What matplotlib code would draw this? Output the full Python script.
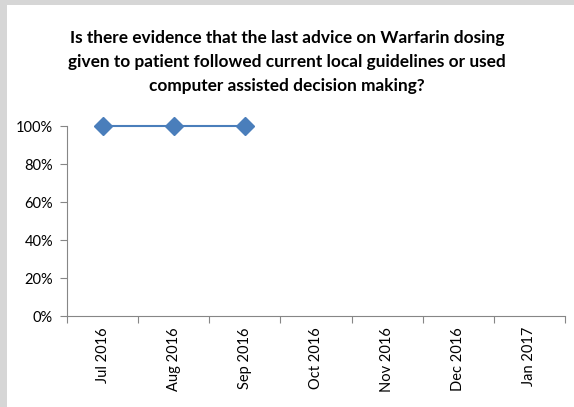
import numpy as np
import matplotlib.pyplot as plt
from matplotlib.patches import Rectangle
from matplotlib.ticker import PercentFormatter

months = ['Jul 2016', 'Aug 2016', 'Sep 2016', 'Oct 2016', 'Nov 2016', 'Dec 2016', 'Jan 2017']
compliance = [1.0, 1.0, 1.0]

title = ('Is there evidence that the last advice on Warfarin dosing\n'
         'given to patient followed current local guidelines or used\n'
         'computer assisted decision making?')

plt.rcParams['font.family'] = ['Lato', 'DejaVu Sans']

fig = plt.figure(figsize=(5.74, 4.07), dpi=100)
W, H = 574, 407

# grey frame from the screenshot (top and left strips)
fig.patches.append(Rectangle((0, 1 - 5 / H), 1, 5 / H, transform=fig.transFigure,
                             facecolor='#d6d6d6', edgecolor='none'))
fig.patches.append(Rectangle((0, 0), 7 / W, 1, transform=fig.transFigure,
                             facecolor='#d6d6d6', edgecolor='none'))

ax = fig.add_axes([67 / W, (H - 316) / H, (565 - 67) / W, (316 - 126) / H])
x = np.arange(len(compliance))
ax.plot(x, compliance, color='#4a7ebb', lw=1.5, marker='D', ms=9.5,
        markerfacecolor='#4a7ebb', markeredgecolor='#4a7ebb', clip_on=False)

ax.set_xlim(-0.5, len(months) - 0.5)
ax.set_ylim(0, 1)
ax.set_yticks(np.arange(0, 1.01, 0.2))
ax.yaxis.set_major_formatter(PercentFormatter(1.0, decimals=0))
ax.set_xticks(np.arange(-0.5, len(months) + 0.5, 1))
ax.set_xticklabels([])
ax.set_xticks(np.arange(len(months)), minor=True)
ax.set_xticklabels(months, minor=True, rotation=90, fontsize=10.5)
ax.tick_params(axis='x', which='minor', length=0, pad=8)
ax.tick_params(axis='x', which='major', length=5, color='#868686')
ax.tick_params(axis='y', length=5, color='#868686', labelsize=10.5, pad=5)

for s in ['top', 'right']:
    ax.spines[s].set_visible(False)
for s in ['left', 'bottom']:
    ax.spines[s].set_color('#868686')

fig.text(0.5, 1 - 62 / H, title, ha='center', va='center', fontsize=12.4,
         fontweight='bold', linespacing=1.65)

fig.savefig('out.png', dpi=100)
